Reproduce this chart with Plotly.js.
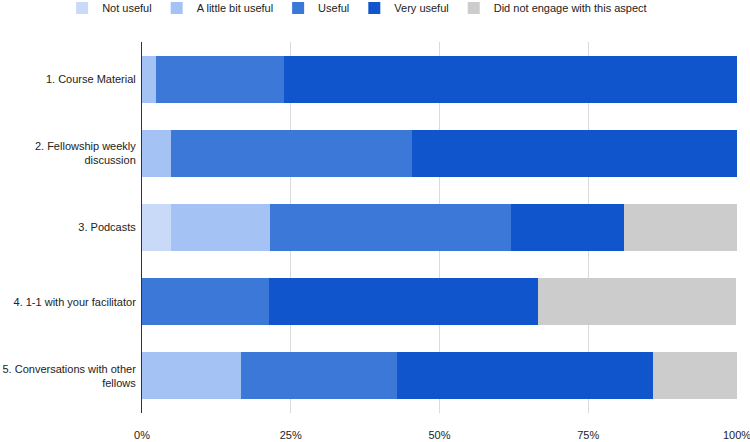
<!DOCTYPE html>
<html>
<head>
<meta charset="utf-8">
<script src="https://cdn.plot.ly/plotly-3.0.1.min.js"></script>
<style>
  html, body { margin: 0; padding: 0; background: #ffffff; }
  #chart { width: 750px; height: 442px; }
</style>
</head>
<body>
<div id="chart"></div>
<script>
const categories = [
  "1. Course Material",
  "2. Fellowship weekly<br>discussion",
  "3. Podcasts",
  "4. 1-1 with your facilitator",
  "5. Conversations with other<br>fellows"
];
const seriesNames = ["Not useful", "A little bit useful", "Useful", "Very useful", "Did not engage with this aspect"];
const notUseful      = [0,   0,    4.8,  0,    0];
const littleUseful   = [2.4, 4.8,  16.7, 0,    16.7];
const useful         = [21.4, 40.5, 40.5, 21.4, 26.2];
const veryUseful     = [76.2, 54.8, 19.0, 45.2, 42.9];
const didNotEngage   = [0,   0,    19.0, 33.3, 14.3];
const tickVals = [0, 25, 50, 75, 100];
const tickText = ["0%", "25%", "50%", "75%", "100%"];

const colors = ["#c9daf8", "#a4c2f4", "#3c78d8", "#1155cc", "#cccccc"];
const allSeries = [notUseful, littleUseful, useful, veryUseful, didNotEngage];

const traces = allSeries.map((vals, i) => ({
  type: "bar",
  orientation: "h",
  name: seriesNames[i],
  x: vals,
  y: categories,
  marker: { color: colors[i], line: { width: 0 } },
  hoverinfo: "skip"
}));

const layout = {
  width: 750,
  height: 442,
  barmode: "stack",
  bargap: 0.365,
  margin: { l: 142, r: 13, t: 42, b: 29, autoexpand: false },
  paper_bgcolor: "#ffffff",
  plot_bgcolor: "#ffffff",
  font: { family: "Liberation Sans, Arial, sans-serif", size: 11, color: "#222222" },
  showlegend: true,
  legend: {
    orientation: "h",
    x: 0.3616,
    xanchor: "center",
    y: 1.0916,
    yanchor: "middle",
    font: { size: 11, color: "#222222" },
    traceorder: "normal",
    itemclick: false
  },
  xaxis: {
    range: [0, 100],
    tickvals: tickVals,
    ticktext: tickText,
    showgrid: true,
    gridcolor: "#dadada",
    gridwidth: 1,
    zeroline: false,
    showline: false,
    ticks: "outside",
    ticklen: 12,
    tickcolor: "rgba(0,0,0,0)",
    ticklabeloverflow: "allow",
    fixedrange: true,
    tickfont: { size: 11, color: "#222222" }
  },
  yaxis: {
    autorange: "reversed",
    showline: true,
    linecolor: "#333333",
    linewidth: 1,
    showgrid: false,
    zeroline: false,
    ticks: "outside",
    ticklen: 3,
    tickcolor: "rgba(0,0,0,0)",
    fixedrange: true,
    tickfont: { size: 11, color: "#222222" }
  }
};

Plotly.newPlot("chart", traces, layout, { displayModeBar: false, staticPlot: true });
</script>
</body>
</html>
